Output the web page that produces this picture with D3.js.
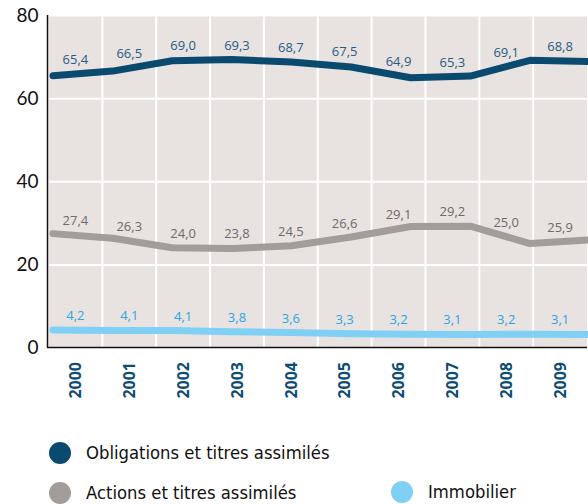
<!DOCTYPE html>
<html>
<head>
<meta charset="utf-8">
<script src="https://cdn.jsdelivr.net/npm/d3@7"></script>
<style>
  body { margin: 0; background: #fff; }
  svg { display: block; }
</style>
</head>
<body>
<div id="chart"></div>
<script>
var svg_width = 588,
    svg_height = 504,
    plot = { left: 48.5, right: 587, top: 15, bottom: 347.5 };

var years = ['2000', '2001', '2002', '2003', '2004', '2005', '2006', '2007', '2008', '2009'];
var obligations = [65.4, 66.5, 69.0, 69.3, 68.7, 67.5, 64.9, 65.3, 69.1, 68.8];
var actions = [27.4, 26.3, 24.0, 23.8, 24.5, 26.6, 29.1, 29.2, 25.0, 25.9];
var immobilier = [4.2, 4.1, 4.1, 3.8, 3.6, 3.3, 3.2, 3.1, 3.2, 3.1];
var yTicks = [0, 20, 40, 60, 80];

var series = [
  { name: 'Obligations et titres assimilés', values: obligations, line: '#0b4a6f', text: '#285b82' },
  { name: 'Actions et titres assimilés', values: actions, line: '#a39d9a', text: '#6e6a68' },
  { name: 'Immobilier', values: immobilier, line: '#80cff4', text: '#2ba6e0' }
];

var svg = d3.select('#chart')
  .append('svg')
  .attr('width', svg_width)
  .attr('height', svg_height);

// band scale for labels / grid, point scale for the lines themselves
var xBand = d3.scaleBand().domain(years).range([plot.left, plot.right]);
var xLine = d3.scalePoint().domain(years).range([53, 589.5]);
var yScale = d3.scaleLinear().domain([0, 80]).range([plot.bottom, plot.top]);

svg.append('rect')
  .attr('x', plot.left)
  .attr('y', plot.top)
  .attr('width', plot.right - plot.left)
  .attr('height', plot.bottom - plot.top)
  .attr('fill', '#e8e3e1');

// vertical grid at band boundaries
svg.append('g')
  .selectAll('line')
  .data(years.slice(1))
  .enter()
  .append('line')
  .attr('x1', d => xBand(d))
  .attr('x2', d => xBand(d))
  .attr('y1', plot.top)
  .attr('y2', plot.bottom)
  .attr('stroke', '#fff')
  .attr('stroke-width', 2);

var yAxis = svg.append('g')
  .attr('transform', `translate(${plot.left}, 0)`)
  .call(d3.axisLeft(yScale).tickValues(yTicks).tickSize(-(plot.right - plot.left)).tickPadding(10));

yAxis.select('.domain').remove();
yAxis.selectAll('.tick line')
  .attr('stroke', '#fff')
  .attr('stroke-width', 2)
  .filter(d => d === 0).remove();
yAxis.selectAll('.tick text')
  .attr('font-family', 'Lato, sans-serif')
  .attr('font-size', 19)
  .attr('fill', '#111');

// axis lines
svg.append('line')
  .attr('x1', plot.left - 1).attr('x2', plot.left - 1)
  .attr('y1', plot.top).attr('y2', plot.bottom)
  .attr('stroke', '#111').attr('stroke-width', 1.5);
svg.append('line')
  .attr('x1', plot.left - 1.5).attr('x2', plot.right)
  .attr('y1', plot.bottom).attr('y2', plot.bottom)
  .attr('stroke', '#111').attr('stroke-width', 1.5);

var line = d3.line()
  .x((d, i) => xLine(years[i]))
  .y(d => yScale(d));

series.forEach(s => {
  svg.append('path')
    .datum(s.values)
    .attr('d', line)
    .attr('fill', 'none')
    .attr('stroke', s.line)
    .attr('stroke-width', 7)
    .attr('stroke-linejoin', 'round')
    .attr('stroke-linecap', 'round');

  // value on the line below each band centre
  var along = d3.scaleLinear().domain(years.map(y => xLine(y))).range(s.values);

  svg.append('g')
    .selectAll('text')
    .data(s.values)
    .enter()
    .append('text')
    .attr('x', (d, i) => xBand(years[i]) + xBand.bandwidth() / 2)
    .attr('y', (d, i) => yScale(along(xBand(years[i]) + xBand.bandwidth() / 2)) - 10)
    .attr('text-anchor', 'middle')
    .attr('font-family', '"Open Sans", sans-serif')
    .attr('font-size', 13)
    .attr('fill', s.text)
    .text(d => d.toFixed(1).replace('.', ','));
});

// year labels
svg.append('g')
  .selectAll('text')
  .data(years)
  .enter()
  .append('text')
  .attr('transform', d => `translate(${xBand(d) + xBand.bandwidth() / 2}, 362) rotate(-90)`)
  .attr('dy', '0.36em')
  .attr('text-anchor', 'end')
  .attr('font-family', '"Open Sans", sans-serif')
  .attr('font-weight', 'bold')
  .attr('font-size', 16)
  .attr('fill', '#0d4c73')
  .text(d => d);

// legend
var legendPos = [[60, 453], [60, 493], [402, 492]];
var legend = svg.append('g')
  .selectAll('g')
  .data(series)
  .enter()
  .append('g')
  .attr('transform', (d, i) => `translate(${legendPos[i][0]}, ${legendPos[i][1]})`);

legend.append('circle')
  .attr('r', 11)
  .attr('fill', d => d.line);

legend.append('text')
  .attr('x', 26)
  .attr('y', 6)
  .attr('font-family', '"Liberation Sans Narrow", "DejaVu Sans Condensed", sans-serif')
  .attr('font-size', 18.3)
  .attr('fill', '#111')
  .text(d => d.name);
</script>
</body>
</html>
